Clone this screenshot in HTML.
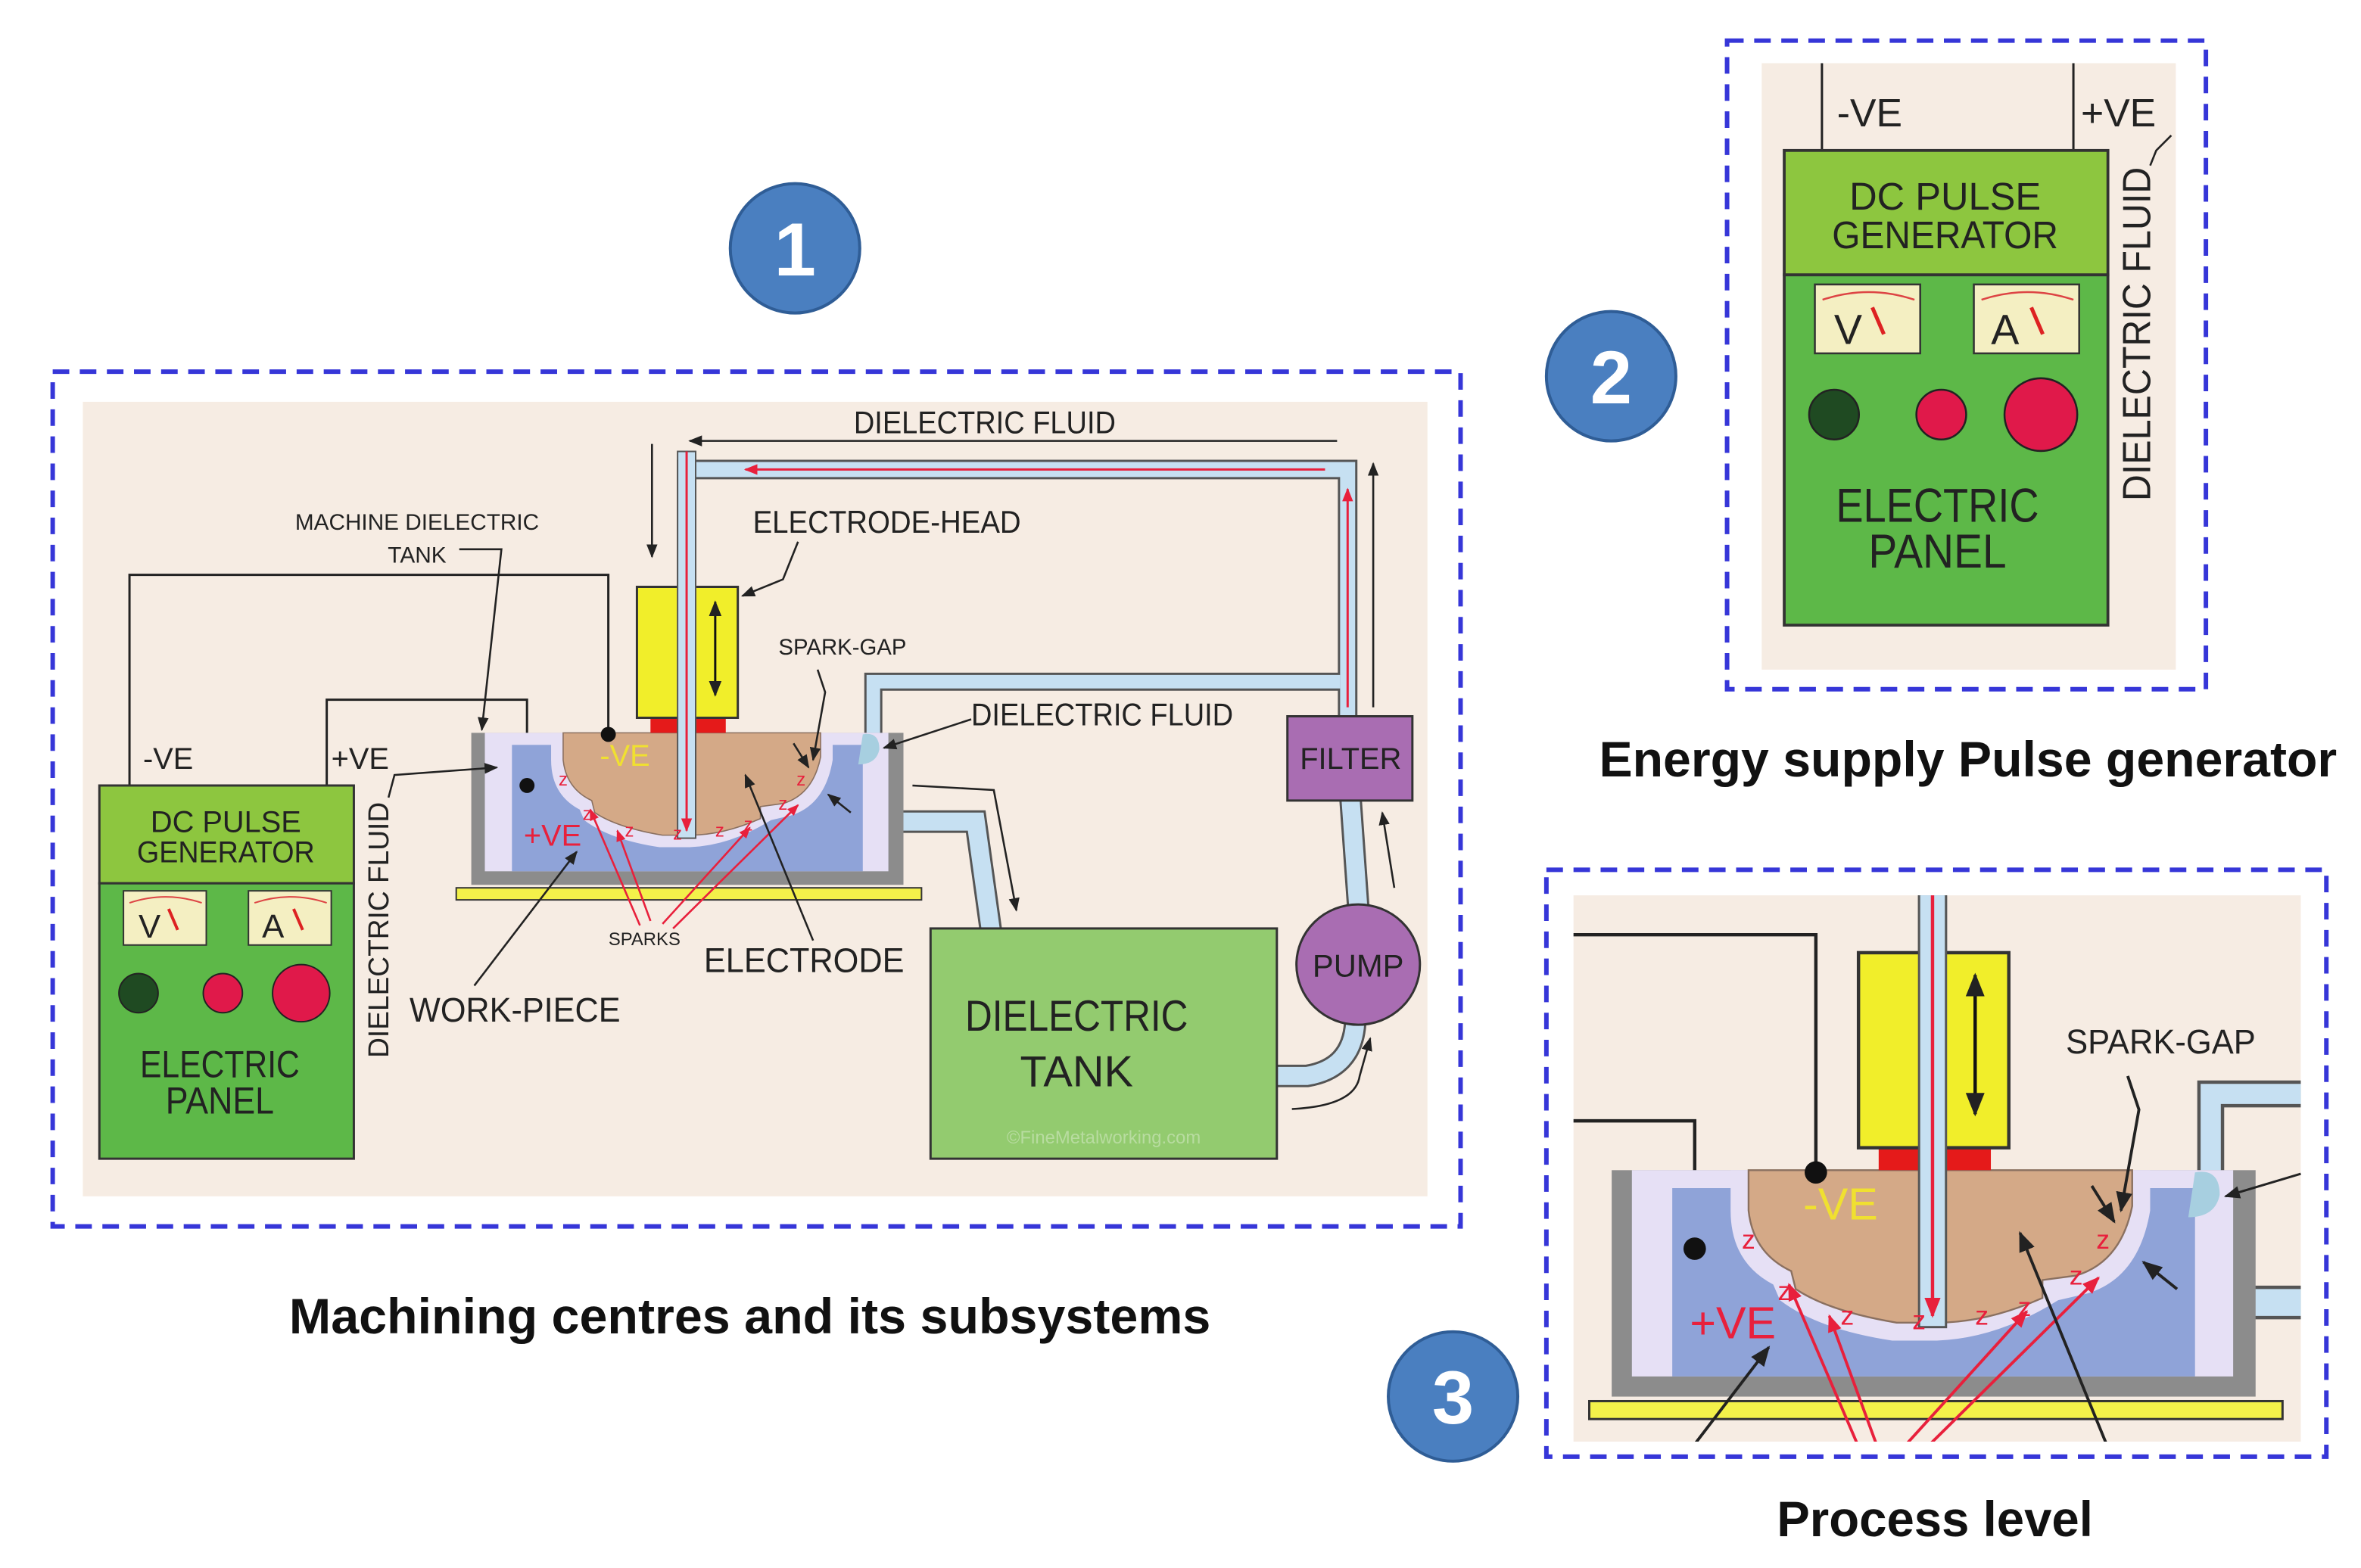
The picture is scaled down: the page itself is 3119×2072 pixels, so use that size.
<!DOCTYPE html>
<html><head><meta charset="utf-8"><style>
html,body{margin:0;padding:0;background:#fff;width:3119px;height:2072px;overflow:hidden;}
svg{display:block;}
text{font-family:"Liberation Sans",sans-serif;}
</style></head><body>
<svg width="3119" height="2072" viewBox="0 0 1568 1042" preserveAspectRatio="none" xmlns="http://www.w3.org/2000/svg">
<defs>
<marker id="ah" viewBox="0 0 10 10" refX="9" refY="5" markerWidth="7" markerHeight="7" orient="auto-start-reverse"><path d="M0,1 L10,5 L0,9 Z" fill="#222"/></marker>
<marker id="rh" viewBox="0 0 10 10" refX="9" refY="5" markerWidth="6" markerHeight="6" orient="auto"><path d="M0,1 L10,5 L0,9 Z" fill="#e8203c"/></marker>
<clipPath id="c3"><rect x="1045" y="595" width="483" height="363"/></clipPath>
<g id="gen">
 <rect x="66" y="522" width="169" height="65" fill="#8dc63f" stroke="#333" stroke-width="1.5"/>
 <rect x="66" y="587" width="169" height="183" fill="#5db848" stroke="#333" stroke-width="1.5"/>
 <text x="150" y="553" font-size="20" text-anchor="middle" fill="#222" textLength="100" lengthAdjust="spacingAndGlyphs">DC PULSE</text>
 <text x="150" y="573" font-size="20" text-anchor="middle" fill="#222" textLength="118" lengthAdjust="spacingAndGlyphs">GENERATOR</text>
 <rect x="82" y="592" width="55" height="36" fill="#f4efc2" stroke="#333"/>
 <rect x="165" y="592" width="55" height="36" fill="#f4efc2" stroke="#333"/>
 <path d="M86,600 Q110,592 134,600 M169,600 Q193,592 217,600" stroke="#d44" fill="none" stroke-width="1"/>
 <text x="92" y="623" font-size="22" fill="#222">V</text>
 <text x="174" y="623" font-size="22" fill="#222">A</text>
 <line x1="112" y1="604" x2="118" y2="618" stroke="#d22" stroke-width="2"/>
 <line x1="195" y1="604" x2="201" y2="618" stroke="#d22" stroke-width="2"/>
 <circle cx="92" cy="660" r="13" fill="#1f4a22" stroke="#222"/>
 <circle cx="148" cy="660" r="13" fill="#e0194a" stroke="#222"/>
 <circle cx="200" cy="660" r="19" fill="#e0194a" stroke="#222"/>
 <text x="146" y="716" font-size="25" text-anchor="middle" fill="#222" textLength="106" lengthAdjust="spacingAndGlyphs">ELECTRIC</text>
 <text x="146" y="740" font-size="25" text-anchor="middle" fill="#222" textLength="72" lengthAdjust="spacingAndGlyphs">PANEL</text>
</g>
<g id="mach">
 <polyline points="86,522 86,382 404,382 404,488" fill="none" stroke="#222" stroke-width="1.5"/>
 <polyline points="217,522 217,465 350,465 350,522" fill="none" stroke="#222" stroke-width="1.5"/>
 <g fill="none" stroke-linejoin="miter">
  <path d="M456,470 L456,312 L895,312 L895,476" stroke="#555" stroke-width="13"/>
  <path d="M580,490 L580,453 L890,453" stroke="#555" stroke-width="12"/>
  <path d="M598,546 L648,546 L658,618" stroke="#555" stroke-width="15"/>
  <path d="M848,715 L868,715 Q898,710 900,680" stroke="#555" stroke-width="15"/>
  <path d="M902,602 L897,532" stroke="#555" stroke-width="15"/>
  <path d="M456,470 L456,312 L895,312 L895,476" stroke="#c6e0f2" stroke-width="10"/>
  <path d="M580,490 L580,453 L890,453" stroke="#c6e0f2" stroke-width="9"/>
  <path d="M598,546 L648,546 L658,618" stroke="#c6e0f2" stroke-width="12"/>
  <path d="M848,715 L868,715 Q898,710 900,680" stroke="#c6e0f2" stroke-width="12"/>
  <path d="M902,602 L897,532" stroke="#c6e0f2" stroke-width="12"/>
 </g>
 <line x1="880" y1="312" x2="495" y2="312" stroke="#e8203c" stroke-width="1.5" marker-end="url(#rh)"/>
 <line x1="895" y1="470" x2="895" y2="325" stroke="#e8203c" stroke-width="1.5" marker-end="url(#rh)"/>
 <rect x="313" y="487" width="287" height="101" fill="#8c8c8c"/>
 <rect x="322" y="487" width="268" height="92" fill="#e6e0f5"/>
 <rect x="340" y="495" width="233" height="84" fill="#8fa3d8"/>
 <path d="M366,487 L553,487 L553,505 Q548,535 525,542 L512,545 Q485,562 458,563 L438,563 Q405,558 388,545 L385,538 Q366,528 366,505 Z" fill="#e6e0f5"/>
 <path d="M374,487 L545,487 L545,503 Q540,528 520,534 L505,536 L505,544 Q480,555 458,555 L440,555 Q410,550 395,540 L393,532 Q376,524 374,505 Z" fill="#d4a987" stroke="#8a7060" stroke-width="0.8"/>
 <rect x="303" y="590" width="309" height="8" fill="#f3f14a" stroke="#333"/>
 <path d="M573,488 Q584,486 584,498 Q582,508 570,508 Z" fill="#a7cfe0"/>
 <rect x="432" y="477" width="20" height="10" fill="#e51a1a"/>
 <rect x="462" y="477" width="20" height="10" fill="#e51a1a"/>
 <rect x="423" y="390" width="67" height="87" fill="#f1ee2a" stroke="#333" stroke-width="1.5"/>
 <rect x="450" y="300" width="12" height="257" fill="#c6e0f2" stroke="#555" stroke-width="1"/>
 <line x1="456" y1="300" x2="456" y2="552" stroke="#e8203c" stroke-width="1.5" marker-end="url(#rh)"/>
 <line x1="475" y1="400" x2="475" y2="462" stroke="#111" stroke-width="1.5" marker-end="url(#ah)" marker-start="url(#ah)"/>
 <circle cx="404" cy="488" r="5" fill="#111"/>
 <circle cx="350" cy="522" r="5" fill="#111"/>
 <text x="415" y="509" font-size="20" text-anchor="middle" fill="#f0e030">-VE</text>
 <text x="367" y="562" font-size="20" text-anchor="middle" fill="#e8203c">+VE</text>
 <g font-size="12" fill="#e8203c" text-anchor="middle">
  <text x="374" y="522">z</text><text x="390" y="545">z</text><text x="418" y="556">z</text><text x="450" y="558">z</text><text x="478" y="556">z</text><text x="497" y="552">z</text><text x="520" y="538">z</text><text x="532" y="522">z</text>
 </g>
 <g stroke="#e8203c" stroke-width="1.3" fill="none">
  <line x1="425" y1="615" x2="392" y2="538" marker-end="url(#rh)"/>
  <line x1="432" y1="612" x2="410" y2="552" marker-end="url(#rh)"/>
  <line x1="440" y1="614" x2="498" y2="550" marker-end="url(#rh)"/>
  <line x1="447" y1="617" x2="530" y2="535" marker-end="url(#rh)"/>
 </g>
 <g stroke="#222" stroke-width="1.3" fill="none">
  <line x1="540" y1="625" x2="495" y2="515" marker-end="url(#ah)"/>
  <line x1="315" y1="655" x2="383" y2="566" marker-end="url(#ah)"/>
  <line x1="565" y1="540" x2="550" y2="528" marker-end="url(#ah)"/>
  <line x1="527" y1="494" x2="537" y2="510" marker-end="url(#ah)"/>
  <polyline points="543,445 548,460 540,505" marker-end="url(#ah)"/>
 </g>
</g>
</defs>

<rect width="1568" height="1042" fill="#fff"/>

<rect x="35" y="247" width="935" height="568" fill="none" stroke="#3636d8" stroke-width="3" stroke-dasharray="11,7"/>
<rect x="55" y="267" width="893" height="528" fill="#f6ece3"/>
<use href="#mach"/>
<use href="#gen"/>
<g stroke="#222" stroke-width="1.3" fill="none">
 <line x1="888" y1="293" x2="458" y2="293" marker-end="url(#ah)"/>
 <line x1="433" y1="295" x2="433" y2="370" marker-end="url(#ah)"/>
 <line x1="912" y1="470" x2="912" y2="308" marker-end="url(#ah)"/>
 <polyline points="606,522 660,525 675,605" marker-end="url(#ah)"/>
 <line x1="926" y1="590" x2="918" y2="540" marker-end="url(#ah)"/>
 <path d="M858,737 Q900,735 903,715 L910,690" marker-end="url(#ah)"/>
 <polyline points="305,365 333,365 320,485" marker-end="url(#ah)"/>
 <polyline points="530,360 520,385 493,396" marker-end="url(#ah)"/>
 <line x1="645" y1="478" x2="587" y2="497" marker-end="url(#ah)"/>
 <polyline points="258,530 262,515 330,510" marker-end="url(#ah)"/>
</g>
<rect x="855" y="476" width="83" height="56" fill="#a96db2" stroke="#333" stroke-width="1.5"/>
<text x="897" y="511" font-size="20" text-anchor="middle" fill="#222">FILTER</text>
<ellipse cx="902" cy="641" rx="41" ry="40" fill="#a96db2" stroke="#333" stroke-width="1.5"/>
<text x="902" y="649" font-size="21" text-anchor="middle" fill="#222">PUMP</text>
<rect x="618" y="617" width="230" height="153" fill="#93cb6f" stroke="#333" stroke-width="1.5"/>
<text x="715" y="685" font-size="29" text-anchor="middle" fill="#222" textLength="148" lengthAdjust="spacingAndGlyphs">DIELECTRIC</text>
<text x="715" y="722" font-size="29" text-anchor="middle" fill="#222">TANK</text>
<text x="733" y="760" font-size="12" text-anchor="middle" fill="#b8dca0">©FineMetalworking.com</text>
<g fill="#222">
 <text x="567" y="288" font-size="21" textLength="174" lengthAdjust="spacingAndGlyphs">DIELECTRIC FLUID</text>
 <text x="645" y="482" font-size="21" textLength="174" lengthAdjust="spacingAndGlyphs">DIELECTRIC FLUID</text>
 <text x="500" y="354" font-size="21" textLength="178" lengthAdjust="spacingAndGlyphs">ELECTRODE-HEAD</text>
 <text x="277" y="352" font-size="15" text-anchor="middle" textLength="162" lengthAdjust="spacingAndGlyphs">MACHINE DIELECTRIC</text>
 <text x="277" y="374" font-size="15" text-anchor="middle">TANK</text>
 <text x="517" y="435" font-size="15" textLength="85" lengthAdjust="spacingAndGlyphs">SPARK-GAP</text>
 <text x="428" y="628" font-size="12" text-anchor="middle">SPARKS</text>
 <text x="534" y="646" font-size="23" text-anchor="middle" textLength="133" lengthAdjust="spacingAndGlyphs">ELECTRODE</text>
 <text x="342" y="679" font-size="23" text-anchor="middle" textLength="140" lengthAdjust="spacingAndGlyphs">WORK-PIECE</text>
 <text x="95" y="511" font-size="20">-VE</text>
 <text x="220" y="511" font-size="20">+VE</text>
 <text transform="translate(258,618) rotate(-90)" font-size="19" text-anchor="middle" textLength="170" lengthAdjust="spacingAndGlyphs">DIELECTRIC FLUID</text>
</g>
<circle cx="528" cy="165" r="43" fill="#4a7fc0" stroke="#2f5d96" stroke-width="2"/>
<text x="528" y="183" font-size="50" font-weight="bold" text-anchor="middle" fill="#fff">1</text>
<text x="498" y="886" font-size="33" font-weight="bold" text-anchor="middle" fill="#111" textLength="612" lengthAdjust="spacingAndGlyphs">Machining centres and its subsystems</text>

<rect x="1147" y="27" width="318" height="431" fill="none" stroke="#3636d8" stroke-width="3" stroke-dasharray="11,7"/>
<rect x="1170" y="42" width="275" height="403" fill="#f6ece3"/>
<line x1="1210" y1="42" x2="1210" y2="100" stroke="#222" stroke-width="1.5"/>
<line x1="1377" y1="42" x2="1377" y2="100" stroke="#222" stroke-width="1.5"/>
<use href="#gen" transform="translate(1101,-564) scale(1.272)"/>
<text x="1220" y="84" font-size="26" fill="#222">-VE</text>
<text x="1382" y="84" font-size="26" fill="#222">+VE</text>
<polyline points="1428,110 1432,100 1442,90" fill="none" stroke="#222" stroke-width="1.3"/>
<text transform="translate(1428,222) rotate(-90)" font-size="26" text-anchor="middle" fill="#222" textLength="222" lengthAdjust="spacingAndGlyphs">DIELECTRIC FLUID</text>
<circle cx="1070" cy="250" r="43" fill="#4a7fc0" stroke="#2f5d96" stroke-width="2"/>
<text x="1070" y="268" font-size="50" font-weight="bold" text-anchor="middle" fill="#fff">2</text>
<text x="1307" y="516" font-size="33" font-weight="bold" text-anchor="middle" fill="#111" textLength="490" lengthAdjust="spacingAndGlyphs">Energy supply Pulse generator</text>

<rect x="1027" y="578" width="518" height="390" fill="none" stroke="#3636d8" stroke-width="3" stroke-dasharray="11,7"/>
<rect x="1045" y="595" width="483" height="363" fill="#f6ece3"/>
<g clip-path="url(#c3)"><use href="#mach" transform="translate(604,52) scale(1.49)"/></g>
<line x1="1528" y1="780" x2="1478" y2="795" stroke="#222" stroke-width="1.5" marker-end="url(#ah)"/>
<text x="1435" y="700" font-size="23" text-anchor="middle" fill="#222" textLength="126" lengthAdjust="spacingAndGlyphs">SPARK-GAP</text>
<circle cx="965" cy="928" r="43" fill="#4a7fc0" stroke="#2f5d96" stroke-width="2"/>
<text x="965" y="946" font-size="50" font-weight="bold" text-anchor="middle" fill="#fff">3</text>
<text x="1285" y="1021" font-size="33" font-weight="bold" text-anchor="middle" fill="#111" textLength="210" lengthAdjust="spacingAndGlyphs">Process level</text>
</svg>
</body></html>
